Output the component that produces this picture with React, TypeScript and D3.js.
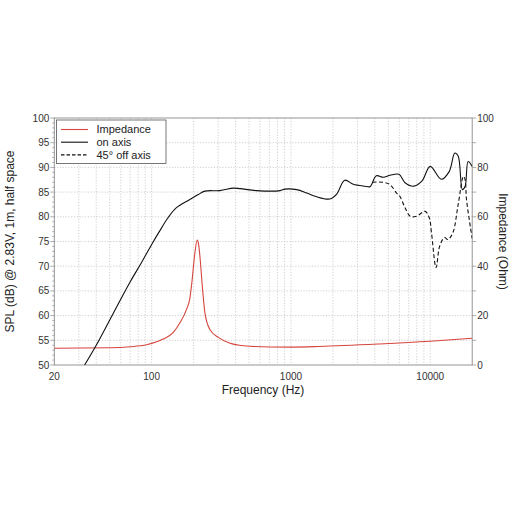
import React from "react";
import * as d3 from "d3";

const impFreq = [20, 30.6, 50, 70, 92, 121, 143, 160, 178, 188, 194, 204, 212, 217, 222, 232, 241, 261, 301, 362, 458, 707, 1000, 1600, 4300, 10000, 20000];
const impOhm = [6.8, 6.9, 7.0, 7.4, 8.2, 10.5, 13.2, 17.2, 22.5, 27, 33, 45, 50.6, 49, 44, 30.6, 21.2, 14.5, 11.2, 8.9, 7.8, 7.3, 7.25, 7.5, 8.5, 9.6, 10.8];

const onFreq = [33, 40, 53.3, 70, 84, 100, 114, 131, 150, 188, 216, 241, 309, 386, 432, 566, 835, 905, 1099, 1300, 1510, 1900, 2130, 2430, 2800, 3400, 3690, 4100, 4600, 5150, 5960, 6590, 7590, 8700, 10000, 12000, 13700, 15000, 15860, 17000, 17800, 18700, 20000];
const onDb = [50, 54, 60.6, 66.8, 70.6, 74.4, 77.1, 79.8, 81.8, 83.5, 84.5, 85.2, 85.3, 85.8, 85.7, 85.3, 85.3, 85.6, 85.5, 84.8, 84.1, 83.6, 84.6, 87.4, 86.6, 86.2, 86.1, 88.3, 88.0, 88.4, 88.6, 86.9, 86.2, 87.2, 90.2, 87.6, 89.2, 92.9, 92.3, 85.5, 86.2, 91.2, 90.2];

const offFreq = [3850, 4600, 5150, 5730, 6030, 6600, 7180, 7960, 9180, 9840, 10200, 11010, 11690, 12670, 13400, 14540, 15860, 17310, 17800, 18200, 20000];
const offDb = [87.0, 87.0, 86.5, 84.8, 84.2, 81.8, 80.1, 80.1, 81.1, 79.8, 76.8, 69.7, 74.1, 75.8, 75.4, 76.8, 82.5, 88.2, 87.5, 83.5, 75.6];

const leftTicks = [50, 55, 60, 65, 70, 75, 80, 85, 90, 95, 100];
const rightTicks = [0, 20, 40, 60, 80, 100];
const xTickLabels = [20, 100, 1000, 10000];
const legendItems = ["Impedance", "on axis", "45° off axis"];

const W = 512, H = 512;
const X0 = 54.3, X1 = 472.2, Y0 = 118, Y1 = 365;
const RED = "#d6453d";
const FONT = "Liberation Sans, Arial, Helvetica, sans-serif";

export default function App() {
  const x = d3.scaleLog().domain([20, 20000]).range([X0, X1]);
  const yL = d3.scaleLinear().domain([50, 100]).range([Y1, Y0]);
  const yR = d3.scaleLinear().domain([0, 100]).range([Y1, Y0]);

  const gridX: number[] = [];
  for (let dec = 10; dec <= 10000; dec *= 10) {
    for (let m = 1; m <= 9; m++) {
      const f = dec * m;
      if (f > 20 && f < 20000) gridX.push(f);
    }
  }
  const minorL = d3.range(50, 101, 1);

  const splLine = d3.line<[number, number]>().curve(d3.curveCatmullRom.alpha(0.5));
  const impLine = d3.line<[number, number]>().curve(d3.curveMonotoneX);
  const impPts: [number, number][] = impFreq.map((f, i) => [x(f), yR(impOhm[i])]);
  const onPts: [number, number][] = onFreq.map((f, i) => [x(f), yL(onDb[i])]);
  const offPts: [number, number][] = offFreq.map((f, i) => [x(f), yL(offDb[i])]);

  return (
    <svg width={W} height={H} style={{ position: "absolute", left: 0, top: 0, background: "#fff" }} fontFamily={FONT}>
      <defs>
        <clipPath id="plot">
          <rect x={X0} y={Y0} width={X1 - X0} height={Y1 - Y0} />
        </clipPath>
      </defs>
      {gridX.map((f) => (
        <line key={"gx" + f} x1={x(f)} x2={x(f)} y1={Y0} y2={Y1} stroke="#c4c4c4" strokeWidth={0.8} strokeDasharray="1.2,1.6" />
      ))}
      {leftTicks.slice(1, -1).map((v) => (
        <line key={"gy" + v} x1={X0} x2={X1} y1={yL(v)} y2={yL(v)} stroke="#c4c4c4" strokeWidth={0.8} strokeDasharray="1.2,1.6" />
      ))}
      <rect x={X0} y={Y0} width={X1 - X0} height={Y1 - Y0} fill="none" stroke="#8a8a8a" strokeWidth={0.9} />
      {minorL.map((v) => (
        <line key={"ml" + v} x1={X0 - (v % 5 === 0 ? 4 : 2)} x2={X0} y1={yL(v)} y2={yL(v)} stroke="#8a8a8a" strokeWidth={0.7} />
      ))}
      {leftTicks.map((v) => (
        <text key={"tl" + v} x={X0 - 5} y={yL(v)} dy="0.35em" textAnchor="end" fontSize={10} fill="#333">{v}</text>
      ))}
      {d3.range(0, 101, 10).map((v) => (
        <line key={"rt" + v} x1={X1} x2={X1 + 4} y1={yR(v)} y2={yR(v)} stroke="#8a8a8a" strokeWidth={0.7} />
      ))}
      {rightTicks.map((v) => (
        <text key={"tr" + v} x={X1 + 5} y={yR(v)} dy="0.35em" textAnchor="start" fontSize={10} fill="#333">{v}</text>
      ))}
      {xTickLabels.map((f) => (
        <text key={"tx" + f} x={x(f)} y={Y1 + 15} textAnchor="middle" fontSize={10} fill="#333">{f}</text>
      ))}
      <g clipPath="url(#plot)">
        <path d={impLine(impPts) || ""} fill="none" stroke={RED} strokeWidth={1.1} />
        <path d={splLine(onPts) || ""} fill="none" stroke="#111" strokeWidth={1.1} />
        <path d={splLine(offPts) || ""} fill="none" stroke="#111" strokeWidth={1.1} strokeDasharray="4,2.5" />
      </g>
      <rect x={56.5} y={120} width={109.5} height={43.5} fill="#fff" stroke="#555" strokeWidth={0.8} />
      {legendItems.map((t, i) => {
        const yy = 129.5 + i * 12.7;
        return (
          <g key={t}>
            <line x1={61} x2={88} y1={yy} y2={yy} stroke={i === 0 ? RED : "#111"} strokeWidth={1.1} strokeDasharray={i === 2 ? "3.5,2" : undefined} />
            <text x={96.5} y={yy} dy="0.35em" fontSize={11} fill="#222">{t}</text>
          </g>
        );
      })}
      <text x={263} y={394} textAnchor="middle" fontSize={12} fill="#222">Frequency (Hz)</text>
      <text transform={`translate(14,${(Y0 + Y1) / 2}) rotate(-90)`} textAnchor="middle" fontSize={12} fill="#222">SPL (dB) @ 2.83V, 1m, half space</text>
      <text transform={`translate(499,${(Y0 + Y1) / 2}) rotate(90)`} textAnchor="middle" fontSize={12} fill="#222">Impedance (Ohm)</text>
    </svg>
  );
}
